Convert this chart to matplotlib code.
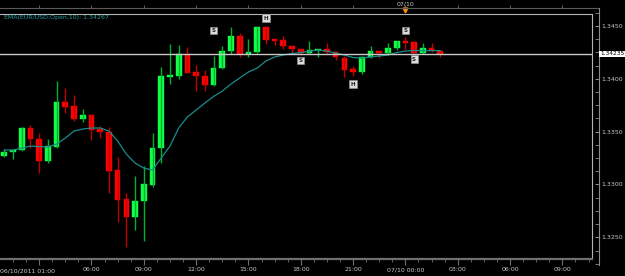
import numpy as np
import matplotlib
matplotlib.use('Agg')
import matplotlib.pyplot as plt
from matplotlib.transforms import blended_transform_factory

# EUR/USD 30 minute candles, 06/10/2011 01:00 -> 07/10 02:00
opens = [1.33270, 1.33305, 1.33326, 1.33535, 1.33430, 1.33225, 1.33358, 1.33783, 1.33743, 1.33620,
         1.33658, 1.33522, 1.33500, 1.33137, 1.32863, 1.32689, 1.32844, 1.32998, 1.33342, 1.34020,
         1.34030, 1.34235, 1.34065, 1.34027, 1.33942, 1.34100, 1.34261, 1.34405, 1.34235, 1.34251,
         1.34491, 1.34374, 1.34365, 1.34311, 1.34279, 1.34242, 1.34273, 1.34279, 1.34257, 1.34200,
         1.34093, 1.34065, 1.34204, 1.34263, 1.34242, 1.34295, 1.34358, 1.34349, 1.34242, 1.34295,
         1.34263]
highs = [1.33339, 1.33336, 1.33541, 1.33563, 1.33484, 1.33433, 1.33979, 1.33910, 1.33847, 1.33712,
         1.33665, 1.33553, 1.33541, 1.33263, 1.32916, 1.33080, 1.33178, 1.33490, 1.34115, 1.34330,
         1.34320, 1.34298, 1.34131, 1.34084, 1.34216, 1.34311, 1.34488, 1.34431, 1.34374, 1.34500,
         1.34495, 1.34376, 1.34405, 1.34315, 1.34282, 1.34358, 1.34285, 1.34336, 1.34260, 1.34219,
         1.34124, 1.34216, 1.34311, 1.34268, 1.34336, 1.34362, 1.34393, 1.34352, 1.34342, 1.34342,
         1.34266]
lows = [1.33260, 1.33241, 1.33320, 1.33342, 1.33106, 1.33206, 1.33350, 1.33679, 1.33604, 1.33594,
        1.33421, 1.33440, 1.32916, 1.32642, 1.32411, 1.32569, 1.32468, 1.32979, 1.33200, 1.33948,
        1.33998, 1.34052, 1.33888, 1.33888, 1.33935, 1.34095, 1.34235, 1.34204, 1.34209, 1.34242,
        1.34334, 1.34320, 1.34284, 1.34242, 1.34226, 1.34238, 1.34204, 1.34235, 1.34178, 1.34020,
        1.34027, 1.34046, 1.34200, 1.34194, 1.34226, 1.34273, 1.34273, 1.34238, 1.34238, 1.34257,
        1.34204]
closes = [1.33307, 1.33326, 1.33532, 1.33428, 1.33225, 1.33364, 1.33783, 1.33736, 1.33620, 1.33658,
          1.33516, 1.33497, 1.33130, 1.32853, 1.32689, 1.32846, 1.33004, 1.33348, 1.34027, 1.34036,
          1.34235, 1.34058, 1.34027, 1.33942, 1.34100, 1.34261, 1.34405, 1.34235, 1.34251, 1.34491,
          1.34372, 1.34360, 1.34315, 1.34279, 1.34242, 1.34273, 1.34282, 1.34257, 1.34204, 1.34084,
          1.34065, 1.34204, 1.34266, 1.34242, 1.34295, 1.34358, 1.34339, 1.34242, 1.34295, 1.34263,
          1.34235]
ema = [1.33326, 1.33326, 1.33345, 1.33364, 1.33359, 1.33355, 1.33383, 1.33440, 1.33506, 1.33525,
       1.33535, 1.33535, 1.33506, 1.33412, 1.33288, 1.33203, 1.33156, 1.33137, 1.33251, 1.33364,
       1.33535, 1.33639, 1.33705, 1.33771, 1.33833, 1.33885, 1.33951, 1.34008, 1.34065, 1.34102,
       1.34169, 1.34207, 1.34226, 1.34240, 1.34249, 1.34263, 1.34273, 1.34263, 1.34244, 1.34226,
       1.34202, 1.34197, 1.34207, 1.34216, 1.34226, 1.34249, 1.34263, 1.34268, 1.34268, 1.34268,
       1.34267]
ema_label = 'EMA(EUR/USD:Open,10): 1.34267'

# swing markers
marker_idx = [24, 30, 34, 40, 46, 47]
marker_txt = ['S', 'H', 'S', 'H', 'S', 'S']
marker_px = [1.34457, 1.34576, 1.34173, 1.33951, 1.34457, 1.34188]

first_label = '06/10/2011 01:00'
tick_idx = [4, 10, 16, 22, 28, 34, 40, 46, 52, 58, 64]
tick_lbl = ['', '06:00', '09:00', '12:00', '15:00', '18:00', '21:00', '07/10 00:00', '03:00', '06:00', '09:00']
price_ticks = [1.3250, 1.3300, 1.3350, 1.3400, 1.3450]

plt.rcParams['font.family'] = ['Liberation Sans Narrow', 'DejaVu Sans']
FS = 4.5
W, H = 625, 276
def fx(p): return p / W
def fy(p): return 1 - p / H

fig = plt.figure(figsize=(6.25, 2.76), dpi=100, facecolor='black')
ax = fig.add_axes([0, fy(259), fx(592), (259 - 14) / H])
ax.set_facecolor('black')
ax.set_xlim(-0.49, 67.4)
ax.set_ylim(1.32295, 1.34614)

o = np.array(opens); h = np.array(highs); l = np.array(lows); c = np.array(closes)
x = np.arange(len(o))
up = c >= o
ax.vlines(x[up], l[up], h[up], color='#00b030', lw=1)
ax.vlines(x[~up], l[~up], h[~up], color='#c00000', lw=1)
body_lo = np.minimum(o, c)
body_h = np.maximum(np.abs(c - o), 0.00004)
ax.bar(x[up], body_h[up], bottom=body_lo[up], width=0.65, color='#10ff48', edgecolor='#10ff48', lw=0.3)
ax.bar(x[~up], body_h[~up], bottom=body_lo[~up], width=0.65, color='#ff0000', edgecolor='#ff0000', lw=0.3)

ax.plot(x, ema, color='#1a8c8c', lw=0.9)
ax.axhline(closes[-1], color='#c8c8c8', lw=1)

for i, t, p in zip(marker_idx, marker_txt, marker_px):
    ax.text(i, p, t, ha='center', va='center', fontsize=4, color='#202020', fontweight='bold',
            bbox=dict(boxstyle='square,pad=0.25', fc='#dcdcdc', ec='#909090', lw=0.5))

ax.spines['left'].set_visible(False)
for s in ['top', 'right']:
    ax.spines[s].set_color('#b4b4b4')
ax.spines['bottom'].set_color('#6e6e6e')
ax.spines['bottom'].set_linewidth(1.6)
ax.set_yticks([])
ax.set_xticks(tick_idx)
ax.set_xticklabels(tick_lbl)
ax.set_xticks(np.arange(1, 67.4, 1.5), minor=True)
ax.tick_params(axis='x', which='major', length=4, color='#6e6e6e', labelcolor='#c8c8c8', labelsize=FS, pad=2)
ax.tick_params(axis='x', which='minor', length=2, color='#6e6e6e')
ax.text(-0.49, -0.04, first_label, transform=blended_transform_factory(ax.transData, ax.transAxes),
        ha='left', va='top', fontsize=FS, color='#c8c8c8')

fig.text(fx(4), fy(17.5), ema_label, ha='left', va='center', fontsize=FS, color='#20a0a0')

# top time strip
axt = fig.add_axes([0, fy(8), fx(599), 1e-5])
axt.set_xlim(-0.49, -0.49 + 599 / 8.72)
axt.set_facecolor('none')
for s in ['top', 'left', 'right']:
    axt.spines[s].set_visible(False)
axt.spines['bottom'].set_color('#5a5a5a')
axt.set_yticks([])
axt.set_xticks(tick_idx)
axt.tick_params(axis='x', direction='in', length=2, color='#5a5a5a', labelbottom=False)
trt = blended_transform_factory(axt.transData, fig.transFigure)
axt.text(46, fy(4), '07/10', transform=trt, ha='center', va='center', fontsize=FS, color='#c8c8c8')
axt.plot([46], [fy(10)], marker='v', ms=3.5, color='#ff8c00', transform=trt, clip_on=False)

# price scale
axr = fig.add_axes([fx(599), fy(265), 1 / W, (265 - 8) / H])
axr.set_ylim(1.32238, 1.34670)
axr.set_facecolor('none')
for s in ['top', 'bottom', 'right']:
    axr.spines[s].set_visible(False)
axr.spines['left'].set_color('#8c8c8c')
axr.set_xticks([])
axr.set_yticks(price_ticks)
axr.set_yticklabels([f'{p:.4f}' for p in price_ticks])
axr.set_yticks(np.arange(1.3225, 1.3467, 0.00125), minor=True)
axr.tick_params(axis='y', which='both', left=True, right=False, labelleft=False, labelright=True,
                direction='out', length=3, color='#8c8c8c', labelcolor='#c8c8c8', labelsize=FS, pad=-2)
trr = blended_transform_factory(fig.transFigure, axr.transData)
axr.text(fx(600), closes[-1], f'{closes[-1]:.5f}', transform=trr, ha='left', va='center',
         fontsize=4.2, color='black', bbox=dict(boxstyle='square,pad=0.1', fc='white', ec='none'))

fig.savefig('out.png', dpi=100, facecolor='black')
